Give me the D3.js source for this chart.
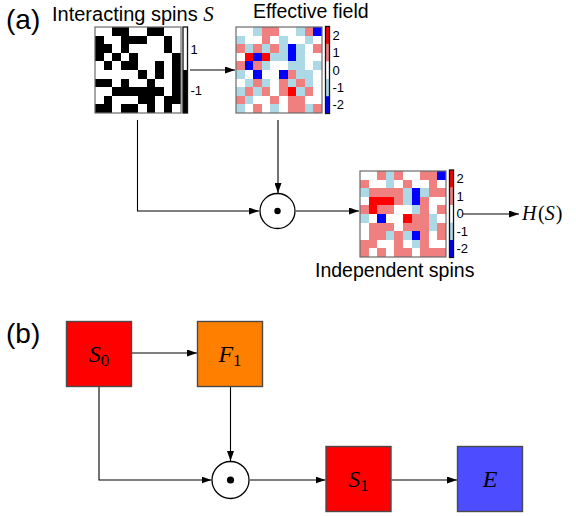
<!DOCTYPE html>
<html>
<head>
<meta charset="utf-8">
<script src="https://cdn.jsdelivr.net/npm/d3@7"></script>
<style>
  html, body { margin: 0; padding: 0; background: #fff; }
  svg { display: block; }
  .sans { font-family: "Liberation Sans", Arial, sans-serif; }
  .math { font-family: "Liberation Serif", "Times New Roman", serif; }
  .cb-label { font-family: "Liberation Sans", Arial, sans-serif; font-size: 13px; fill: #000; }
</style>
</head>
<body>
<svg id="fig" width="576" height="516"></svg>
<script>
// Interacting spins S (10 x 10 lattice, values +1 / -1)
const spinRows = [
  [ 1, 1,-1,-1, 1, 1,-1,-1, 1, 1],
  [-1, 1, 1,-1,-1,-1, 1, 1,-1, 1],
  [-1,-1, 1,-1, 1, 1, 1, 1,-1, 1],
  [-1, 1,-1, 1,-1, 1, 1, 1, 1,-1],
  [ 1,-1, 1,-1,-1, 1, 1,-1, 1,-1],
  [ 1, 1, 1, 1, 1,-1, 1,-1, 1,-1],
  [-1,-1, 1,-1, 1, 1,-1, 1, 1,-1],
  [ 1, 1,-1,-1,-1,-1,-1,-1, 1,-1],
  [ 1,-1, 1, 1, 1,-1,-1, 1,-1,-1],
  [-1,-1, 1,-1,-1, 1,-1, 1,-1, 1]
];

// Effective field F acting on each site
const fieldRows = [
  [ 0, 0,-1, 1, 1, 0, 0,-1, 1,-2],
  [-1, 0, 0, 1, 0,-1, 0, 0,-1, 0],
  [ 1,-1, 1,-1, 1,-1,-2,-1, 0, 1],
  [ 0, 2,-2, 2,-1,-1,-2,-1, 0, 0],
  [ 1,-2, 1,-1, 0, 0,-1,-1, 0,-1],
  [-1, 0,-2, 0, 0,-2, 1,-1,-1, 0],
  [ 0,-1, 1,-1, 0, 1,-1, 1,-1, 0],
  [-1, 1,-1, 1, 0, 1, 2,-1, 1, 0],
  [ 1,-1, 0, 0, 1, 0, 1, 1, 0, 0],
  [-1, 0, 1, 0,-1, 0, 1, 1,-1, 1]
];

// Independent spins after the element-wise product
const independentRows = [
  [ 0, 0, 1,-1, 1, 0, 0, 1, 1,-2],
  [ 1, 0, 0,-1, 0, 1, 0, 0, 1, 0],
  [-1, 1, 1, 1, 1,-1,-2,-1, 1, 1],
  [ 0, 2, 2, 2, 1,-1,-2, 1, 0, 0],
  [ 1, 2, 1, 1, 0, 0,-1, 1, 0, 1],
  [-1, 0,-2, 0, 0, 2, 1, 1,-1, 0],
  [ 0, 1, 1, 1, 0, 1, 1, 1,-1, 1],
  [ 0, 1, 1,-1, 1,-1,-2, 1, 0, 1],
  [ 1, 1, 0, 0, 1, 0,-1, 1, 0, 0],
  [ 1, 0, 1, 0, 1, 1, 0, 1, 1, 1]
];

const spinLevels = [-1, 1];
const spinColours = ["#000000", "#ffffff"];
const spinTicks = [1, -1];

const fieldLevels = [-2, -1, 0, 1, 2];
const fieldColours = ["#0000ff", "#add8e6", "#ffffff", "#f08080", "#ff0000"];
const fieldTicks = [2, 1, 0, -1, -2];

// Blocks of the network diagram
const blockNames = ["S", "F", "S", "E"];
const blockSubs  = ["0", "1", "1", ""];
const blockFills = ["#ff0000", "#ff8000", "#ff0000", "#4d4dff"];

const svg = d3.select("#fig");
svg.append("rect").attr("width", 576).attr("height", 516).attr("fill", "#fff");

const defs = svg.append("defs");
defs.append("marker")
  .attr("id", "head")
  .attr("viewBox", "0 0 10 7")
  .attr("refX", 10).attr("refY", 3.5)
  .attr("markerWidth", 10).attr("markerHeight", 7)
  .attr("markerUnits", "userSpaceOnUse")
  .attr("orient", "auto")
  .append("path").attr("d", "M0,0 L10,3.5 L0,7 Z").attr("fill", "#000");

const spinColour = d3.scaleOrdinal().domain(spinLevels).range(spinColours);
const fieldColour = d3.scaleOrdinal().domain(fieldLevels).range(fieldColours);

function heatmap(x0, y0, size, rows, colour) {
  const n = rows.length;
  const xs = d3.scaleBand().domain(d3.range(n)).range([x0, x0 + size]);
  const ys = d3.scaleBand().domain(d3.range(n)).range([y0, y0 + size]);
  const g = svg.append("g");
  rows.forEach((row, r) => {
    g.selectAll(null).data(row).join("rect")
      .attr("x", (v, c) => xs(c))
      .attr("y", ys(r))
      .attr("width", xs.bandwidth() + 0.3)
      .attr("height", ys.bandwidth() + 0.3)
      .attr("fill", v => colour(v))
      .attr("shape-rendering", "crispEdges");
  });
  g.append("rect")
    .attr("x", x0).attr("y", y0).attr("width", size).attr("height", size)
    .attr("fill", "none").attr("stroke", "#6b6b6b").attr("stroke-width", 1.2);
}

function colourbar(x0, y0, w, h, domain, levels, bounds, colour, ticks) {
  const ys = d3.scaleLinear().domain(domain).range([y0 + h, y0]);
  const g = svg.append("g");
  g.selectAll(null).data(levels).join("rect")
    .attr("x", x0)
    .attr("y", (v, i) => ys(bounds[i + 1]))
    .attr("width", w)
    .attr("height", (v, i) => ys(bounds[i]) - ys(bounds[i + 1]))
    .attr("fill", v => colour(v));
  g.append("rect")
    .attr("x", x0).attr("y", y0).attr("width", w).attr("height", h)
    .attr("fill", "none").attr("stroke", "#111").attr("stroke-width", 1.3);
  const axis = d3.axisRight(ys).tickValues(ticks).tickSize(0).tickPadding(3)
    .tickFormat(d => d < 0 ? "-" + Math.abs(d) : String(d));
  const ag = svg.append("g").attr("transform", `translate(${x0 + w},0)`).call(axis);
  ag.select(".domain").remove();
  ag.attr("font-family", null).attr("font-size", null);
  ag.selectAll("text").attr("fill", null).attr("class", "cb-label");
}

function arrow(points, head = true) {
  svg.append("path")
    .attr("d", d3.line()(points))
    .attr("fill", "none").attr("stroke", "#000").attr("stroke-width", 1.1)
    .attr("marker-end", head ? "url(#head)" : null);
}

function odot(cx, cy, r, dot) {
  svg.append("circle").attr("cx", cx).attr("cy", cy).attr("r", r)
    .attr("fill", "#fff").attr("stroke", "#000").attr("stroke-width", 1.3);
  svg.append("circle").attr("cx", cx).attr("cy", cy).attr("r", dot).attr("fill", "#000");
}

// ---------- panel (a) ----------
svg.append("text").attr("class", "sans").attr("x", 6).attr("y", 29)
  .attr("font-size", 28).text("(a)");

const t1 = svg.append("text").attr("class", "sans").attr("x", 52).attr("y", 21).attr("font-size", 20);
t1.append("tspan").text("Interacting spins ");
t1.append("tspan").attr("class", "math").attr("font-style", "italic").attr("font-size", 21).text("S");

svg.append("text").attr("class", "sans").attr("x", 253).attr("y", 18)
  .attr("font-size", 19.5).text("Effective field");

svg.append("text").attr("class", "sans").attr("x", 315).attr("y", 277)
  .attr("font-size", 19.5).text("Independent spins");

heatmap(95, 27, 86, spinRows, spinColour);
colourbar(183, 27, 4.5, 86, [-2.1, 2.1], spinLevels, [-2.1, 0, 2.1], spinColour, spinTicks);

heatmap(236, 27, 86, fieldRows, fieldColour);
colourbar(325.5, 26.5, 4, 87, [-2.5, 2.5], fieldLevels, [-2.5, -1.5, -0.5, 0.5, 1.5, 2.5], fieldColour, fieldTicks);

heatmap(360, 171, 86, independentRows, fieldColour);
colourbar(449.5, 170, 4, 87.5, [-2.5, 2.5], fieldLevels, [-2.5, -1.5, -0.5, 0.5, 1.5, 2.5], fieldColour, fieldTicks);

// connections of panel (a)
arrow([[190, 70], [235, 70]]);
arrow([[137.5, 120], [137.5, 211], [259, 211]]);
arrow([[278, 120], [278, 193]]);
arrow([[296, 211], [359, 211]]);
arrow([[463, 214], [519, 214]]);
odot(277.5, 211, 17.5, 3.2);

const hs = svg.append("text").attr("class", "math").attr("x", 522).attr("y", 220).attr("font-size", 20);
hs.append("tspan").attr("font-style", "italic").text("H");
hs.append("tspan").attr("dx", 1.5).text("(");
hs.append("tspan").attr("font-style", "italic").text("S");
hs.append("tspan").attr("dx", 1).text(")");

// ---------- panel (b) ----------
svg.append("text").attr("class", "sans").attr("x", 6).attr("y", 343)
  .attr("font-size", 28).text("(b)");

const boxX = [66.5, 197.5, 326, 457.5];
const boxY = [321.5, 321.5, 446.5, 446.5];
const boxS = 65;

// connections of panel (b)
arrow([[132, 353], [197, 353]]);
arrow([[99, 387], [99, 480], [211.5, 480]]);
arrow([[230.5, 387], [230.5, 461]]);
arrow([[250, 480], [325.5, 480]]);
arrow([[391.5, 480], [457, 480]]);
odot(230.5, 480, 18.5, 3.6);

blockNames.forEach((name, i) => {
  svg.append("rect")
    .attr("x", boxX[i]).attr("y", boxY[i]).attr("width", boxS).attr("height", boxS)
    .attr("fill", blockFills[i]).attr("stroke", "#4a4a4a").attr("stroke-width", 1.4);
  const t = svg.append("text").attr("class", "math")
    .attr("x", boxX[i] + boxS / 2).attr("y", boxY[i] + boxS / 2 + 8)
    .attr("text-anchor", "middle").attr("font-size", 24);
  t.append("tspan").attr("font-style", "italic").text(name);
  if (blockSubs[i]) t.append("tspan").attr("font-size", 17).attr("dy", 4).text(blockSubs[i]);
});
</script>
</body>
</html>
